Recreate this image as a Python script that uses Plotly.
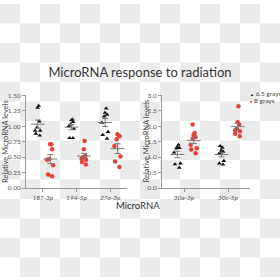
import numpy as np
import plotly.graph_objects as go

# ---- data ----
left_categories = ["187-3p", "194-5p", "27a-3p"]
right_categories = ["30a-3p", "30c-5p"]
group_names = ["6.5 grays", "8 grays"]

left_65 = [
    [1.33, 1.30, 1.08, 0.98, 0.93, 0.93, 0.88, 0.85],
    [1.11, 1.10, 1.07, 1.03, 1.00, 0.96, 0.81, 0.81],
    [1.29, 1.22, 1.19, 1.16, 1.06, 0.91, 0.86, 0.80],
]
left_8 = [
    [0.71, 0.71, 0.63, 0.47, 0.46, 0.37, 0.22, 0.19],
    [0.76, 0.63, 0.52, 0.50, 0.48, 0.46, 0.42, 0.38],
    [0.87, 0.84, 0.79, 0.68, 0.51, 0.43, 0.34],
]
right_65 = [
    [1.40, 1.33, 1.30, 1.28, 1.15, 0.80, 0.77, 0.66],
    [1.36, 1.31, 1.22, 1.18, 1.14, 1.10, 0.88, 0.80, 0.76],
]
right_8 = [
    [2.06, 1.78, 1.73, 1.65, 1.60, 1.40, 1.29, 1.25, 1.13],
    [2.65, 2.13, 2.06, 1.92, 1.87, 1.84, 1.76, 1.68],
]
left_yticks = [0, 0.25, 0.5, 0.75, 1.0, 1.25, 1.5]
right_yticks = [0, 0.5, 1.0, 1.5, 2.0, 2.5, 3.0]

# ---- styles ----
FONT = "Lato"
BLACK = "#111111"
RED = "#E5403A"
BAR = "#7a7a7a"
AXIS = "#9a9a9a"
TICKTXT = "#555555"
OFF = {"6.5 grays": -0.15, "8 grays": 0.22}
SYM = {"6.5 grays": "triangle-up", "8 grays": "circle"}
COL = {"6.5 grays": BLACK, "8 grays": RED}
SIZE = {"6.5 grays": 4.2, "8 grays": 4.5}

fig = go.Figure()

# checkerboard background (transparency pattern)
shapes = []
cell = 20
for r in range(14):
    for c in range(14):
        if (r + c) % 2 == 0:
            shapes.append(dict(type="rect", xref="paper", yref="paper",
                               x0=c * cell / 280, x1=(c + 1) * cell / 280,
                               y0=1 - (r + 1) * cell / 280, y1=1 - r * cell / 280,
                               fillcolor="#ebebeb",
                               line=dict(width=0), layer="below"))


def add_panel(cats, g65, g8, xa, ya, jit_w):
    for gname, data in (("6.5 grays", g65), ("8 grays", g8)):
        for i, vals in enumerate(data):
            pos = i + OFF[gname]
            fig.add_trace(go.Box(
                x=[pos] * len(vals), y=vals, xaxis=xa, yaxis=ya,
                boxpoints="all", jitter=0.75, pointpos=0, width=jit_w,
                fillcolor="rgba(0,0,0,0)", line=dict(width=0, color="rgba(0,0,0,0)"),
                marker=dict(symbol=SYM[gname], size=SIZE[gname], color=COL[gname]),
                showlegend=False, hoverinfo="y"))
            v = np.array(vals)
            mean = v.mean()
            sem = v.std(ddof=1) / np.sqrt(len(v))
            fig.add_trace(go.Scatter(
                x=[pos], y=[mean], xaxis=xa, yaxis=ya, mode="markers",
                marker=dict(symbol="line-ew", size=10, line=dict(width=1, color=BAR)),
                error_y=dict(type="data", array=[sem], color=BAR, thickness=1, width=3),
                showlegend=False, hoverinfo="skip"))


add_panel(left_categories, left_65, left_8, "x", "y", 0.3)
add_panel(right_categories, right_65, right_8, "x2", "y2", 0.24)

ydom = [0.326, 0.665]
common_axis = dict(showgrid=False, zeroline=False, showline=True, linecolor=AXIS,
                   linewidth=1, ticks="outside", ticklen=3, tickcolor=AXIS,
                   tickfont=dict(family=FONT, size=6.5, color=TICKTXT))

fig.update_layout(
    width=280, height=280, margin=dict(l=0, r=0, t=0, b=0),
    paper_bgcolor="white", plot_bgcolor="rgba(0,0,0,0)",
    boxmode="overlay", showlegend=False, shapes=shapes,
    xaxis=dict(domain=[26 / 280, 127 / 280], range=[-0.5, 2.5], anchor="y",
               tickvals=list(range(len(left_categories))),
               ticktext=[f"<i>{c}</i>" for c in left_categories], **common_axis),
    yaxis=dict(domain=ydom, range=[0, 1.5], anchor="x", tickvals=left_yticks,
               tickformat=".2f", **common_axis),
    xaxis2=dict(domain=[162 / 280, 250 / 280], range=[-0.5, 1.5], anchor="y2",
                tickvals=list(range(len(right_categories))),
                ticktext=[f"<i>{c}</i>" for c in right_categories], **common_axis),
    yaxis2=dict(domain=ydom, range=[0, 3.0], anchor="x2", tickvals=right_yticks,
                tickformat=".1f", **common_axis),
    title=dict(text="MicroRNA response to radiation", x=0.5, xanchor="center",
               y=1 - 72 / 280, yanchor="middle",
               font=dict(family=FONT, size=13, color="#333333")),
)

annos = [
    dict(text="Relative MicroRNA levels", x=5.5 / 280, y=1 - 141 / 280, textangle=-90),
    dict(text="Relative MicroRNA levels", x=146 / 280, y=1 - 141 / 280, textangle=-90),
]
for a in annos:
    fig.add_annotation(xref="paper", yref="paper", showarrow=False,
                       xanchor="center", yanchor="middle",
                       font=dict(family=FONT, size=7.5, color="#444444"), **a)

fig.add_annotation(text="MicroRNA", xref="paper", yref="paper", x=138 / 280, y=1 - 207 / 280,
                   showarrow=False, xanchor="center", yanchor="middle",
                   font=dict(family=FONT, size=9.5, color="#333333"))

# legend as text items
legend_y = [92, 99]
for gname, ly, sym in zip(group_names, legend_y, ["▲", "●"]):
    fig.add_annotation(
        text=f"<span style='color:{COL[gname]};font-size:4px'>{sym}</span> {gname}",
        xref="paper", yref="paper", x=248 / 280, y=1 - ly / 280, showarrow=False,
        xanchor="left", yanchor="middle",
        font=dict(family=FONT, size=6.5, color="#444444"))

fig.write_html("out.html")
